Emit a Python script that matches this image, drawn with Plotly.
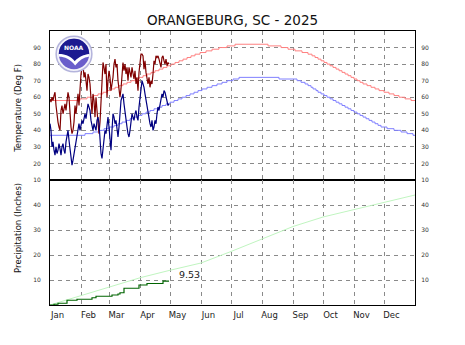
import base64
import numpy as np
import plotly.graph_objects as go
from plotly.subplots import make_subplots

# ---------------- data ----------------
month_names = ["Jan", "Feb", "Mar", "Apr", "May", "Jun", "Jul", "Aug", "Sep", "Oct", "Nov", "Dec"]
month_starts = [1, 32, 60, 91, 121, 152, 182, 213, 244, 274, 305, 335]

# observed daily highs / lows (deg F), Jan 1 .. Apr 30
obs_high = [59, 57, 60, 58, 61, 63, 55, 48, 45, 42,
            40, 52, 55, 50, 53, 56, 52, 58, 63, 60,
            50, 42, 38, 40, 45, 55, 50, 58, 62, 55,
            68, 74, 78, 80, 72, 75, 70, 64, 74, 72,
            68, 55, 50, 62, 58, 48, 60, 52, 42, 38,
            45, 60, 75, 81, 78, 74, 80, 60, 70, 76,
            72, 64, 68, 72, 80, 83, 78, 80, 70, 66,
            60, 65, 72, 81, 76, 80, 74, 78, 70, 78,
            75, 72, 78, 74, 71, 76, 68, 72, 64, 75,
            80, 86, 86, 85, 77, 82, 75, 70, 68, 72,
            66, 70, 68, 74, 82, 80, 85, 84, 85, 83,
            80, 78, 84, 85, 82, 80, 83, 79, 81, 80]
obs_low = [44, 40, 30, 33, 28, 25, 30, 26, 28, 32,
           29, 25, 30, 32, 28, 26, 33, 38, 40, 34,
           28, 24, 19, 22, 26, 30, 34, 38, 42, 44,
           40, 43, 46, 44, 48, 50, 47, 52, 56, 54,
           52, 46, 42, 40, 44, 42, 40, 46, 48, 44,
           34, 26, 23, 30, 36, 40, 38, 44, 48, 42,
           36, 28, 40, 50, 48, 44, 46, 40, 36, 42,
           52, 58, 60, 62, 56, 50, 44, 42, 38, 36,
           40, 46, 50, 48, 46, 50, 52, 48, 46, 54,
           60, 64, 70, 68, 66, 62, 58, 54, 50, 48,
           44, 42, 46, 40, 42, 46, 44, 50, 54, 52,
           56, 58, 62, 60, 64, 63, 60, 58, 55, 56]

# normal high: days on which the (whole-degree) normal changes, and its new value
nh_day = [1, 31, 38, 44, 49, 54, 58, 62, 66, 70, 74, 78, 82, 86, 90, 94, 98, 102, 106, 110,
          114, 118, 122, 126, 130, 134, 138, 142, 146, 151, 157, 163, 170, 178, 186,
          219, 232, 239, 246, 253, 259, 263, 266, 269, 272, 275, 278, 281, 284, 287, 290,
          293, 296, 299, 302, 305, 308, 311, 314, 318, 322, 326, 330, 335, 340, 345, 350,
          356, 362, 366]
nh_val = [58, 59, 60, 61, 62, 63, 64, 65, 66, 67, 68, 69, 70, 71, 72, 73, 74, 75, 76, 77,
          78, 79, 80, 81, 82, 83, 84, 85, 86, 87, 88, 89, 90, 91, 92,
          91, 90, 89, 88, 87, 86, 85, 84, 83, 82, 81, 80, 79, 78, 77, 76,
          75, 74, 73, 72, 71, 70, 69, 68, 67, 66, 65, 64, 63, 62, 61, 60,
          59, 58, 58]
# normal low
nl_day = [1, 36, 44, 50, 55, 60, 65, 69, 73, 77, 81, 85, 89, 93, 97, 101, 105, 109, 113, 117,
          121, 125, 129, 133, 137, 141, 145, 149, 153, 158, 163, 168, 173, 178, 184, 190,
          230, 248, 252, 256, 259, 262, 264, 267, 269, 272, 275, 278, 281, 284, 287, 290,
          293, 296, 299, 302, 305, 308, 311, 314, 317, 320, 323, 326, 329, 332, 338, 345,
          352, 358, 364, 366]
nl_val = [37, 38, 39, 40, 41, 42, 43, 44, 45, 46, 47, 48, 49, 50, 51, 52, 53, 54, 55, 56,
          57, 58, 59, 60, 61, 62, 63, 64, 65, 66, 67, 68, 69, 70, 71, 72,
          71, 70, 69, 68, 67, 66, 65, 64, 63, 62, 61, 60, 59, 58, 57, 56,
          55, 54, 53, 52, 51, 50, 49, 48, 47, 46, 45, 44, 43, 42, 41, 40,
          39, 38, 37, 37]

# observed precipitation events (day of year, inches)
rain_day = [5, 9, 18, 28, 43, 47, 63, 69, 71, 75, 90, 98, 114]
rain_amt = [0.30, 0.40, 1.20, 0.40, 0.60, 0.60, 0.50, 0.40, 0.50, 1.80, 1.30, 0.60, 0.93]
last_obs_day = 120

# normal monthly precipitation (inches)
normal_month_precip = [3.7, 3.4, 3.8, 3.0, 2.9, 4.6, 5.0, 5.0, 3.8, 3.0, 2.8, 3.0]

temp_ticks = [10, 20, 30, 40, 50, 60, 70, 80, 90]
precip_ticks = [10, 20, 30, 40]

# ---------------- derived ----------------
obs_days = list(range(1, len(obs_high) + 1))
cum_rain = np.cumsum(rain_amt)
p_x = [1] + rain_day + [last_obs_day]
p_y = [0.0] + list(cum_rain) + [cum_rain[-1]]
np_x = month_starts + [366]
np_y = [0.0] + list(np.cumsum(normal_month_precip))
label_days = [d + 7.5 for d in month_starts]

GRID = "#8a8a8a"
DASH = "4px,4px"
FONT = "DejaVu Sans"

fig = make_subplots(rows=2, cols=1, shared_xaxes=True, vertical_spacing=0,
                    row_heights=[149, 125],
                    specs=[[{"secondary_y": True}], [{"secondary_y": True}]])

fig.add_trace(go.Scatter(x=nh_day, y=nh_val, mode="lines", line=dict(color="#ff8080", width=1, shape="hv")), row=1, col=1)
fig.add_trace(go.Scatter(x=nl_day, y=nl_val, mode="lines", line=dict(color="#8080ff", width=1, shape="hv")), row=1, col=1)
fig.add_trace(go.Scatter(x=obs_days, y=obs_high, mode="lines", line=dict(color="#800000", width=1.2)), row=1, col=1)
fig.add_trace(go.Scatter(x=obs_days, y=obs_low, mode="lines", line=dict(color="#000080", width=1.2)), row=1, col=1)
fig.add_trace(go.Scatter(x=[1], y=[50], mode="markers", marker=dict(opacity=0, size=1)), row=1, col=1, secondary_y=True)

fig.add_trace(go.Scatter(x=np_x, y=np_y, mode="lines", line=dict(color="#c0f5c0", width=1)), row=2, col=1)
fig.add_trace(go.Scatter(x=p_x, y=p_y, mode="lines", line=dict(color="#006400", width=1.2, shape="hv")), row=2, col=1)
fig.add_trace(go.Scatter(x=[1], y=[25], mode="markers", marker=dict(opacity=0, size=1)), row=2, col=1, secondary_y=True)

fig.add_annotation(x=last_obs_day + 8, y=cum_rain[-1] + 2.6, text=f"{cum_rain[-1]:.2f}",
                   showarrow=False, xanchor="left", yanchor="middle",
                   font=dict(family=FONT, size=9.5, color="#222222"), row=2, col=1)

fig.update_xaxes(domain=[0, 1], range=[1, 366], showline=True, linecolor="black", linewidth=1, mirror=True,
                 tickmode="array", tickvals=label_days, ticktext=month_names, ticks="",
                 showgrid=False, zeroline=False,
                 minor=dict(tickmode="array", tickvals=month_starts[1:], showgrid=True,
                            gridcolor=GRID, griddash=DASH, gridwidth=1, ticks=""),
                 tickfont=dict(family=FONT, size=8.5, color="#222222"), ticklabelstandoff=2)
fig.update_xaxes(showticklabels=False, row=1, col=1)

common_y = dict(showline=True, linecolor="black", linewidth=1, mirror=True, zeroline=False,
                ticks="", tickmode="array", tickfont=dict(family=FONT, size=6, color="#333333"))
fig.update_yaxes(range=[10, 100], tickvals=temp_ticks, showgrid=True, gridcolor=GRID,
                 griddash=DASH, gridwidth=1, ticklabelstandoff=7, row=1, col=1, secondary_y=False, **common_y)
fig.update_yaxes(range=[10, 100], tickvals=temp_ticks, showgrid=False, ticklabelstandoff=4,
                 row=1, col=1, secondary_y=True, **common_y)
fig.update_yaxes(range=[0, 50], tickvals=precip_ticks, showgrid=True, gridcolor=GRID,
                 griddash=DASH, gridwidth=1, ticklabelstandoff=7, row=2, col=1, secondary_y=False, **common_y)
fig.update_yaxes(range=[0, 50], tickvals=precip_ticks, showgrid=False, ticklabelstandoff=4,
                 row=2, col=1, secondary_y=True, **common_y)

# axis titles
fig.add_annotation(xref="paper", yref="paper", x=-0.088, y=0.719, text="Temperature (Deg F)",
                   textangle=-90, showarrow=False, xanchor="center", yanchor="middle",
                   font=dict(family=FONT, size=8.5, color="#111111"))
fig.add_annotation(xref="paper", yref="paper", x=-0.088, y=0.281, text="Precipitation (Inches)",
                   textangle=-90, showarrow=False, xanchor="center", yanchor="middle",
                   font=dict(family=FONT, size=8.5, color="#111111"))

# NOAA logo
svg = ('<svg xmlns="http://www.w3.org/2000/svg" viewBox="0 0 100 100">'
       '<circle cx="50" cy="50" r="47" fill="#f3f3fa" stroke="#b4b4dc" stroke-width="4"/>'
       '<circle cx="50" cy="50" r="40" fill="#6a5ecb"/>'
       '<path d="M10,50 A40,40 0 0 1 90,50 C78,51 63,57 52,69 C42,56 26,50 10,50 Z" fill="#1c1a90"/>'
       '<path d="M10,50 C26,50 42,56 52,69 C63,57 78,51 90,50 L89,57 C76,58 64,66 53,80 C41,63 25,57 11,57 Z" fill="#ffffff"/>'
       '</svg>')
src = "data:image/svg+xml;base64," + base64.b64encode(svg.encode()).decode()
fig.add_layout_image(source=src, xref="paper", yref="paper", x=5 / 365, y=270 / 274,
                     sizex=38 / 365, sizey=38 / 274, xanchor="left", yanchor="top",
                     sizing="stretch", layer="above")
fig.add_annotation(xref="paper", yref="paper", x=24 / 365, y=257 / 274, text="<b>NOAA</b>",
                   showarrow=False, xanchor="center", yanchor="middle",
                   font=dict(family=FONT, size=6, color="white"))

fig.update_layout(
    width=465, height=345,
    margin=dict(l=50, r=50, t=31, b=40),
    paper_bgcolor="white", plot_bgcolor="white",
    showlegend=False, hovermode=False,
    font=dict(family=FONT),
    title=dict(text="ORANGEBURG, SC - 2025", x=0.5, xanchor="center", y=1 - 20 / 345,
               yanchor="middle", font=dict(family=FONT, size=13.5, color="#111111")),
)

fig.write_html("out.html")
